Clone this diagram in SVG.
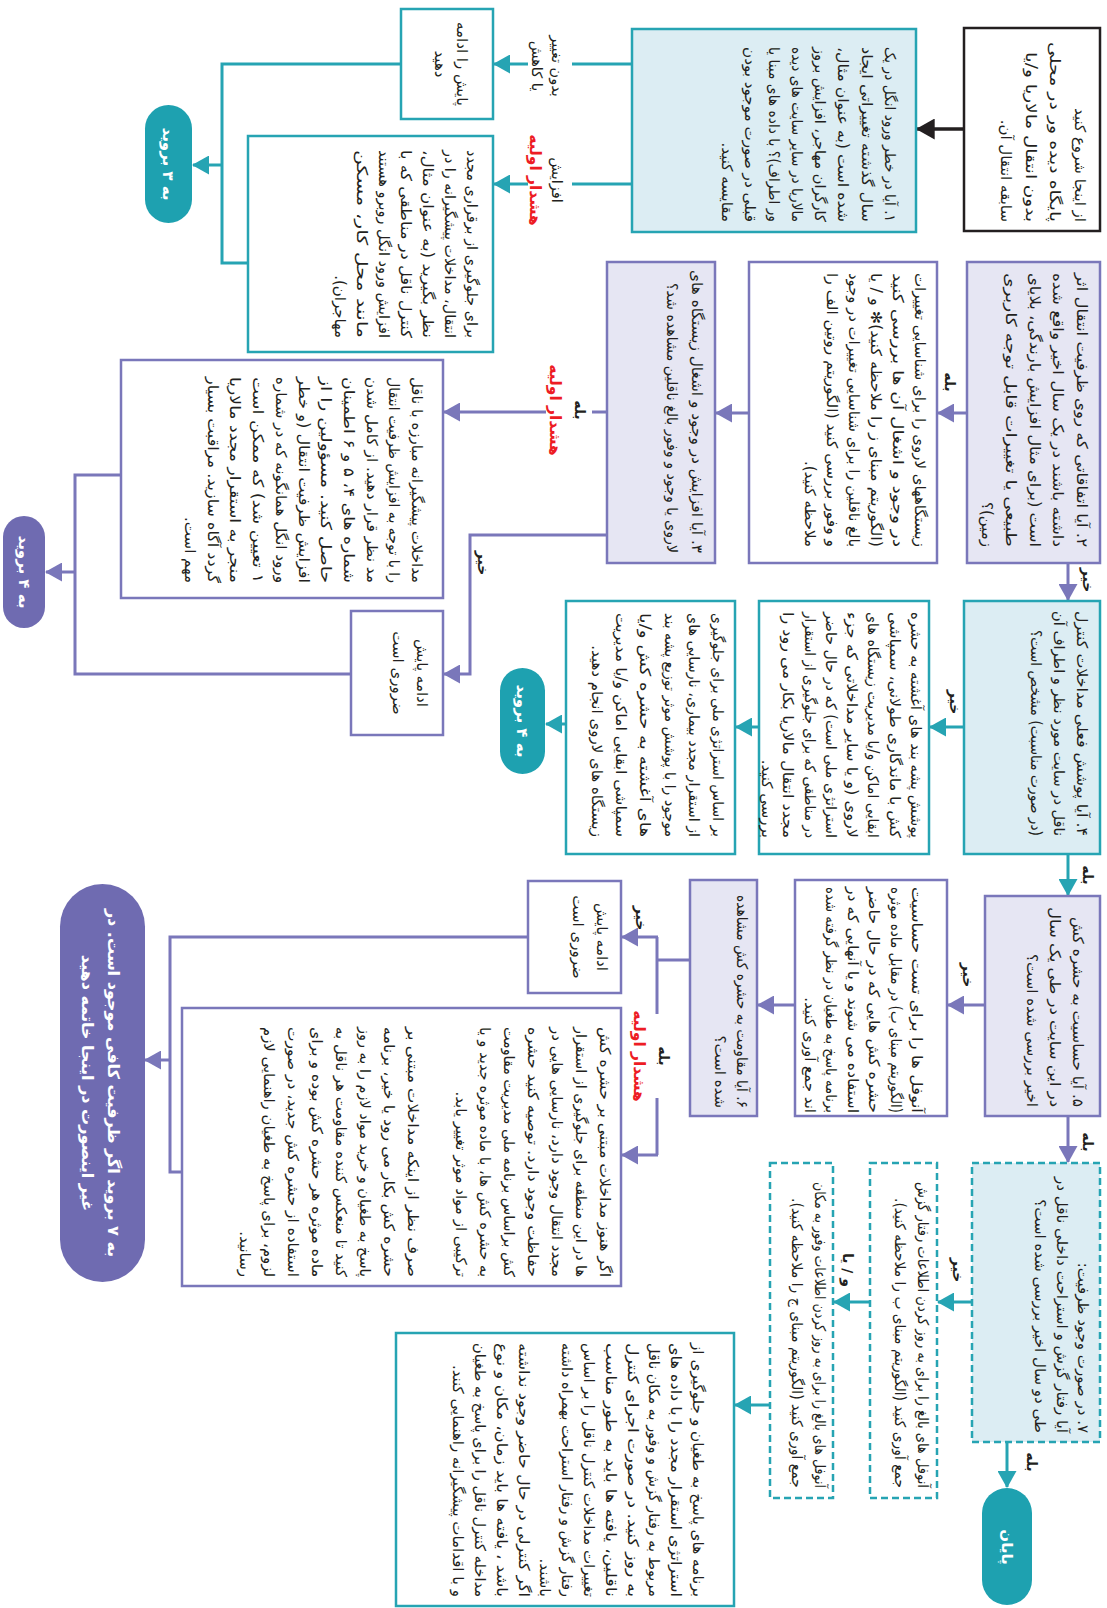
<svg xmlns="http://www.w3.org/2000/svg" width="1107" height="1608" viewBox="0 0 1107 1608">
<style>
.bx{stroke-width:2.5}
.tl{fill:#fff;stroke:#26a4b3}
.tlf{fill:#dcedf3;stroke:#26a4b3}
.pu{fill:#fff;stroke:#7a77ba}
.puf{fill:#e6e6f3;stroke:#7a77ba}
.dash{stroke-dasharray:7 4}
.ct{fill:none;stroke:#26a4b3;stroke-width:3}
.cp{fill:none;stroke:#7a77ba;stroke-width:3}
.ck{fill:none;stroke:#231f20;stroke-width:3.5}
.t{font-family:"DejaVu Sans",sans-serif;font-size:15px;fill:#231f20;direction:rtl;text-anchor:start}
.m{font-family:"DejaVu Sans",sans-serif;font-size:15px;fill:#231f20;direction:rtl;text-anchor:middle}
.lb{font-family:"DejaVu Sans",sans-serif;font-size:14px;font-weight:bold;fill:#231f20;direction:rtl;text-anchor:middle}
.ln{font-weight:normal;font-size:14.5px}
.red{fill:#ed1c24;font-size:15.5px}
.pw{font-family:"DejaVu Sans",sans-serif;font-size:15px;font-weight:bold;fill:#fff;direction:rtl;text-anchor:middle}
</style>
<defs>
<marker id="aT" viewBox="0 0 17 19" refX="16" refY="9.5" markerWidth="17" markerHeight="19" markerUnits="userSpaceOnUse" orient="auto"><path d="M0,0 L17,9.5 L0,19 z" fill="#26a4b3"/></marker>
<marker id="aP" viewBox="0 0 17 19" refX="16" refY="9.5" markerWidth="17" markerHeight="19" markerUnits="userSpaceOnUse" orient="auto"><path d="M0,0 L17,9.5 L0,19 z" fill="#7a77ba"/></marker>
<marker id="aK" viewBox="0 0 17 19" refX="16" refY="9.5" markerWidth="19" markerHeight="21" markerUnits="userSpaceOnUse" orient="auto"><path d="M0,0 L17,9.5 L0,19 z" fill="#231f20"/></marker>
</defs>
<rect width="1107" height="1608" fill="#fff"/>

<g id="connectors">
<line class="ck" x1="964" y1="129" x2="917" y2="129" marker-end="url(#aK)"/>
<line class="ct" x1="632" y1="64" x2="572" y2="64"/>
<line class="ct" x1="528" y1="64" x2="494" y2="64" marker-end="url(#aT)"/>
<line class="ct" x1="632" y1="184" x2="572" y2="184"/>
<line class="ct" x1="528" y1="184" x2="494" y2="184" marker-end="url(#aT)"/>
<polyline class="ct" points="401,64 222,64 222,263 248,263"/>
<line class="ct" x1="222" y1="165" x2="193" y2="165" marker-end="url(#aT)"/>

<line class="cp" x1="967" y1="413" x2="938" y2="413" marker-end="url(#aP)"/>
<line class="cp" x1="749" y1="413" x2="716" y2="413" marker-end="url(#aP)"/>
<line class="cp" x1="607" y1="412" x2="592" y2="412"/>
<line class="cp" x1="546" y1="412" x2="444" y2="412" marker-end="url(#aP)"/>
<polyline class="cp" points="607,535 470,535 470,674 444,674" marker-end="url(#aP)"/>
<polyline class="cp" points="121,475 75,475 75,674 351,674"/>
<line class="cp" x1="75" y1="572" x2="46" y2="572" marker-end="url(#aP)"/>
<line class="cp" x1="1068" y1="563" x2="1068" y2="600" marker-end="url(#aP)"/>

<line class="ct" x1="964" y1="727" x2="930" y2="727" marker-end="url(#aT)"/>
<line class="ct" x1="759" y1="727" x2="736" y2="727" marker-end="url(#aT)"/>
<line class="ct" x1="566" y1="724" x2="546" y2="724" marker-end="url(#aT)"/>
<line class="ct" x1="1068" y1="854" x2="1068" y2="895" marker-end="url(#aT)"/>

<line class="cp" x1="985" y1="1005" x2="948" y2="1005" marker-end="url(#aP)"/>
<line class="cp" x1="795" y1="1005" x2="758" y2="1005" marker-end="url(#aP)"/>
<polyline class="cp" points="690,960 657,960"/>
<line class="cp" x1="657" y1="937" x2="657" y2="1014"/>
<line class="cp" x1="657" y1="1098" x2="657" y2="1155"/>
<line class="cp" x1="658" y1="937" x2="622" y2="937" marker-end="url(#aP)"/>
<line class="cp" x1="658" y1="1155" x2="622" y2="1155" marker-end="url(#aP)"/>
<polyline class="cp" points="528,937 170,937 170,1172 182,1172"/>
<line class="cp" x1="170" y1="1060" x2="145" y2="1060" marker-end="url(#aP)"/>
<line class="cp" x1="1068" y1="1116" x2="1068" y2="1162" marker-end="url(#aP)"/>

<line class="ct" x1="972" y1="1302" x2="938" y2="1302" marker-end="url(#aT)"/>
<line class="ct" x1="870" y1="1302" x2="834" y2="1302" marker-end="url(#aT)"/>
<line class="ct" x1="770" y1="1405" x2="735" y2="1405" marker-end="url(#aT)"/>
<line class="ct" x1="1007" y1="1442" x2="1007" y2="1487" marker-end="url(#aT)"/>

<g transform="translate(552,66) rotate(90)"><text class="lb ln" x="0" y="0">بدون تغییر</text><text class="lb ln" x="0" y="20">یا کاهش</text></g>
<g transform="translate(552,180) rotate(90)"><text class="lb ln" x="0" y="0">افزایش</text><text class="lb red" x="0" y="22">هشدار اولیه</text></g>
<g transform="translate(945,382) rotate(90)"><text class="lb" x="0" y="0">بله</text></g>
<g transform="translate(575,410) rotate(90)"><text class="lb" x="0" y="0">بله</text><text class="lb red" x="0" y="25">هشدار اولیه</text></g>
<g transform="translate(478,563) rotate(90)"><text class="lb" x="0" y="0">خیر</text></g>
<g transform="translate(1083,580) rotate(90)"><text class="lb" x="0" y="0">خیر</text></g>
<g transform="translate(950,702) rotate(90)"><text class="lb" x="0" y="0">خیر</text></g>
<g transform="translate(1083,875) rotate(90)"><text class="lb" x="0" y="0">بله</text></g>
<g transform="translate(963,975) rotate(90)"><text class="lb" x="0" y="0">خیر</text></g>
<g transform="translate(636,918) rotate(90)"><text class="lb" x="0" y="0">خیر</text></g>
<g transform="translate(659,1056) rotate(90)"><text class="lb" x="0" y="0">بله</text><text class="lb red" x="0" y="25">هشدار اولیه</text></g>
<g transform="translate(1083,1142) rotate(90)"><text class="lb" x="0" y="0">بله</text></g>
<g transform="translate(953,1270) rotate(90)"><text class="lb" x="0" y="0">خیر</text></g>
<g transform="translate(843,1270) rotate(90)"><text class="lb" x="0" y="0">و / یا</text></g>
<g transform="translate(1027,1462) rotate(90)"><text class="lb" x="0" y="0">بله</text></g>
</g>

<g id="n-start">
<rect class="bx" x="964" y="28" width="136" height="203" fill="#fff" stroke="#231f20"/>
<g transform="translate(1075,222) rotate(90)">
<text class="t" x="0" y="0">از اینجا شروع کنید</text>
<text class="t" x="0" y="24.7" textLength="180" lengthAdjust="spacingAndGlyphs">پایگاه دیده ور در محلی</text>
<text class="t" x="0" y="49.4" textLength="170" lengthAdjust="spacingAndGlyphs">بدون انتقال مالاریا و/یا</text>
<text class="t" x="0" y="74.1">سابقه انتقال آن.</text>
</g></g>

<g id="n-q1">
<rect class="bx tlf" x="632" y="29" width="284" height="203"/>
<g transform="translate(885,222) rotate(90)">
<text class="t" x="0" y="0" textLength="175" lengthAdjust="spacingAndGlyphs">۱. آیا در خطر ورود انگل در یک</text>
<text class="t" x="0" y="23.3" textLength="175" lengthAdjust="spacingAndGlyphs">سال گذشته تغییراتی ایجاد</text>
<text class="t" x="0" y="46.6" textLength="175" lengthAdjust="spacingAndGlyphs">شده است (به عنوان مثال،</text>
<text class="t" x="0" y="69.9" textLength="175" lengthAdjust="spacingAndGlyphs">کارگران مهاجر، افزایش بروز</text>
<text class="t" x="0" y="93.2" textLength="175" lengthAdjust="spacingAndGlyphs">مالاریا در سایر سایت های دیده</text>
<text class="t" x="0" y="116.5" textLength="175" lengthAdjust="spacingAndGlyphs">ور اطراف)؟ با داده های مبنا یا</text>
<text class="t" x="0" y="139.8" textLength="175" lengthAdjust="spacingAndGlyphs">قبلی در صورت موجود بودن</text>
<text class="t" x="0" y="163.1">مقایسه کنید.</text>
</g></g>

<g id="n-keep1">
<rect class="bx tl" x="401" y="9" width="92" height="110"/>
<g transform="translate(457,64) rotate(90)">
<text class="m" x="0" y="0">پایش را ادامه</text>
<text class="m" x="0" y="22">دهید</text>
</g></g>

<g id="n-prevent1">
<rect class="bx tl" x="248" y="136" width="245" height="216"/>
<g transform="translate(467,338) rotate(90)">
<text class="t" x="0" y="0" textLength="188" lengthAdjust="spacingAndGlyphs">برای جلوگیری از برقراری مجدد</text>
<text class="t" x="0" y="22" textLength="188" lengthAdjust="spacingAndGlyphs">انتقال، مداخلات پیشگیرانه را در</text>
<text class="t" x="0" y="44" textLength="188" lengthAdjust="spacingAndGlyphs">نظر بگیرید (به عنوان مثال،</text>
<text class="t" x="0" y="66" textLength="188" lengthAdjust="spacingAndGlyphs">کنترل ناقل در مناطقی که با</text>
<text class="t" x="0" y="88" textLength="188" lengthAdjust="spacingAndGlyphs">افزایش ورود انگل روبرو هستند</text>
<text class="t" x="0" y="110" textLength="188" lengthAdjust="spacingAndGlyphs">مانند محل کار، مسکن</text>
<text class="t" x="0" y="132">مهاجران).</text>
</g></g>

<g id="n-go3">
<rect x="145" y="105" width="47" height="118" rx="23.5" fill="#1ea1b0"/>
<g transform="translate(163,164) rotate(90)"><text class="pw" x="0" y="0">به ۳ بروید</text></g>
</g>

<g id="n-q2">
<rect class="bx puf" x="967" y="262" width="133" height="301"/>
<g transform="translate(1077,547) rotate(90)">
<text class="t" x="0" y="0" textLength="274" lengthAdjust="spacingAndGlyphs">۲. آیا اتفاقاتی که روی ظرفیت انتقال اثر</text>
<text class="t" x="0" y="23.75" textLength="274" lengthAdjust="spacingAndGlyphs">داشته باشند در یک سال اخیر واقع شده</text>
<text class="t" x="0" y="47.5" textLength="274" lengthAdjust="spacingAndGlyphs">است (برای مثال افزایش بارندگی، بلایای</text>
<text class="t" x="0" y="71.25" textLength="274" lengthAdjust="spacingAndGlyphs">طبیعی یا تغییرات قابل توجه کاربری</text>
<text class="t" x="0" y="95">زمین)؟</text>
</g></g>

<g id="n-larval">
<rect class="bx pu" x="749" y="262" width="188" height="301"/>
<g transform="translate(915,547) rotate(90)">
<text class="t" x="0" y="0" textLength="274" lengthAdjust="spacingAndGlyphs">زیستگاههای لاروی را برای شناسایی تغییرات</text>
<text class="t" x="0" y="22" textLength="274" lengthAdjust="spacingAndGlyphs">در وجود و اشغال آن ها بررسی کنید</text>
<text class="t" x="0" y="44" textLength="274" lengthAdjust="spacingAndGlyphs">(الگوریتم مبنای ز را ملاحظه کنید)✻ و / یا</text>
<text class="t" x="0" y="66" textLength="274" lengthAdjust="spacingAndGlyphs">بالغ ناقلین را برای شناسایی تغییرات در وجود</text>
<text class="t" x="0" y="88" textLength="274" lengthAdjust="spacingAndGlyphs">و وفور بررسی کنید (الگوریتم روتین الف را</text>
<text class="t" x="0" y="110">ملاحظه کنید).</text>
</g></g>

<g id="n-q3">
<rect class="bx puf" x="607" y="262" width="108" height="301"/>
<g transform="translate(692,553) rotate(90)">
<text class="t" x="0" y="0" textLength="283" lengthAdjust="spacingAndGlyphs">۳. آیا افزایش در وجود و اشغال زیستگاه های</text>
<text class="t" x="0" y="25" textLength="270" lengthAdjust="spacingAndGlyphs">لاروی یا وجود و وفور بالغ ناقلین مشاهده شد؟</text>
</g></g>

<g id="n-prevent2">
<rect class="bx pu" x="121" y="360" width="322" height="238"/>
<g transform="translate(412,583) rotate(90)">
<text class="t" x="0" y="0" textLength="206" lengthAdjust="spacingAndGlyphs">مداخلات پیشگیرانه مبارزه با ناقل</text>
<text class="t" x="0" y="22.7" textLength="206" lengthAdjust="spacingAndGlyphs">را با توجه به افزایش ظرفیت انتقال</text>
<text class="t" x="0" y="45.4" textLength="206" lengthAdjust="spacingAndGlyphs">مد نظر قرار دهید. از کامل شدن</text>
<text class="t" x="0" y="68.1" textLength="206" lengthAdjust="spacingAndGlyphs">شماره های ۴، ۵ و ۶ اطمینان</text>
<text class="t" x="0" y="90.8" textLength="206" lengthAdjust="spacingAndGlyphs">حاصل کنید. مسؤولین را از</text>
<text class="t" x="0" y="113.5" textLength="206" lengthAdjust="spacingAndGlyphs">افزایش ظرفیت انتقال (و خطر</text>
<text class="t" x="0" y="136.2" textLength="206" lengthAdjust="spacingAndGlyphs">ورود انگل همانگونه که در شماره</text>
<text class="t" x="0" y="158.9" textLength="206" lengthAdjust="spacingAndGlyphs">۱ تعیین شد) که ممکن است</text>
<text class="t" x="0" y="181.6" textLength="206" lengthAdjust="spacingAndGlyphs">منجر به استقرار مجدد مالاریا</text>
<text class="t" x="0" y="204.3" textLength="206" lengthAdjust="spacingAndGlyphs">گردد آگاه سازید. مراقبت بسیار</text>
<text class="t" x="0" y="227">مهم است.</text>
</g></g>

<g id="n-keep2">
<rect class="bx pu" x="351" y="611" width="92" height="124"/>
<g transform="translate(417,673) rotate(90)">
<text class="m" x="0" y="0">ادامه پایش</text>
<text class="m" x="0" y="24">ضروری است</text>
</g></g>

<g id="n-go4a">
<rect x="3" y="516" width="42" height="112" rx="21" fill="#6f6bb1"/>
<g transform="translate(19,572) rotate(90)"><text class="pw" x="0" y="0">به ۴ بروید</text></g>
</g>

<g id="n-q4">
<rect class="bx tlf" x="964" y="601" width="136" height="253"/>
<g transform="translate(1077,836) rotate(90)">
<text class="t" x="0" y="0" textLength="225" lengthAdjust="spacingAndGlyphs">۴. آیا پوشش فعلی مداخلات کنترل</text>
<text class="t" x="0" y="23" textLength="225" lengthAdjust="spacingAndGlyphs">ناقل در سایت مورد نظر و اطراف آن</text>
<text class="t" x="0" y="46" textLength="206" lengthAdjust="spacingAndGlyphs">(در صورت مناسبت) مشخص است؟</text>
</g></g>

<g id="n-coverage">
<rect class="bx tl" x="759" y="601" width="170" height="253"/>
<g transform="translate(911,838) rotate(90)">
<text class="t" x="0" y="0" textLength="226" lengthAdjust="spacingAndGlyphs">پوشش پشه بند های آغشته به حشره</text>
<text class="t" x="0" y="21.3" textLength="226" lengthAdjust="spacingAndGlyphs">کش با ماندگاری طولانی، سمپاشی</text>
<text class="t" x="0" y="42.6" textLength="226" lengthAdjust="spacingAndGlyphs">ابقایی اماکن و/یا مدیریت زیستگاه های</text>
<text class="t" x="0" y="63.9" textLength="226" lengthAdjust="spacingAndGlyphs">لاروی (و یا سایر مداخلاتی که جزء</text>
<text class="t" x="0" y="85.2" textLength="226" lengthAdjust="spacingAndGlyphs">استراتژی ملی است) که در حال حاضر</text>
<text class="t" x="0" y="106.5" textLength="226" lengthAdjust="spacingAndGlyphs">در مناطقی که برای جلوگیری از استقرار</text>
<text class="t" x="0" y="127.8" textLength="226" lengthAdjust="spacingAndGlyphs">مجدد انتقال مالاریا بکار می رود را</text>
<text class="t" x="0" y="149.1">بررسی کنید.</text>
</g></g>

<g id="n-gaps">
<rect class="bx tl" x="566" y="601" width="169" height="253"/>
<g transform="translate(713,837) rotate(90)">
<text class="t" x="0" y="0" textLength="224" lengthAdjust="spacingAndGlyphs">بر اساس استراتژی ملی برای جلوگیری</text>
<text class="t" x="0" y="24.2" textLength="224" lengthAdjust="spacingAndGlyphs">از استقرار مجدد بیماری، نارسایی های</text>
<text class="t" x="0" y="48.4" textLength="224" lengthAdjust="spacingAndGlyphs">موجود را با پوشش موثر توزیع پشه بند</text>
<text class="t" x="0" y="72.6" textLength="224" lengthAdjust="spacingAndGlyphs">های آغشته به حشره کش و/یا</text>
<text class="t" x="0" y="96.8" textLength="224" lengthAdjust="spacingAndGlyphs">سمپاشی ابقایی اماکن و/یا مدیریت</text>
<text class="t" x="0" y="121">زیستگاه های لاروی انجام دهید.</text>
</g></g>

<g id="n-go4b">
<rect x="500" y="668" width="45" height="106" rx="22.5" fill="#1ea1b0"/>
<g transform="translate(517,721) rotate(90)"><text class="pw" x="0" y="0">به ۴ بروید</text></g>
</g>

<g id="n-q5">
<rect class="bx puf" x="985" y="896" width="115" height="220"/>
<g transform="translate(1073,1107) rotate(90)">
<text class="t" x="0" y="0" textLength="190" lengthAdjust="spacingAndGlyphs">۵. آیا حساسیت به حشره کش</text>
<text class="t" x="0" y="23" textLength="200" lengthAdjust="spacingAndGlyphs">در این سایت در طی یک سال</text>
<text class="t" x="0" y="46">اخیر بررسی شده است؟</text>
</g></g>

<g id="n-susc">
<rect class="bx pu" x="795" y="880" width="152" height="236"/>
<g transform="translate(912,1113) rotate(90)">
<text class="t" x="0" y="0" textLength="226" lengthAdjust="spacingAndGlyphs">آنوفل ها را برای تست حساسیت</text>
<text class="t" x="0" y="21.4" textLength="226" lengthAdjust="spacingAndGlyphs">(الگوریتم مبنای ب) در مقابل ماده موثره</text>
<text class="t" x="0" y="42.8" textLength="226" lengthAdjust="spacingAndGlyphs">حشره کش هایی که در حال حاضر</text>
<text class="t" x="0" y="64.2" textLength="226" lengthAdjust="spacingAndGlyphs">استفاده می شوند و یا آنهایی که در</text>
<text class="t" x="0" y="85.6" textLength="226" lengthAdjust="spacingAndGlyphs">برنامه پاسخ به طغیان در نظر گرفته شده</text>
<text class="t" x="0" y="107">اند جمع آوری کنید.</text>
</g></g>

<g id="n-q6">
<rect class="bx puf" x="690" y="880" width="67" height="236"/>
<g transform="translate(737,1108) rotate(90)">
<text class="t" x="0" y="0" textLength="213" lengthAdjust="spacingAndGlyphs">۶. آیا مقاومت به حشره کش مشاهده</text>
<text class="t" x="0" y="22">شده است؟</text>
</g></g>

<g id="n-keep3">
<rect class="bx pu" x="528" y="881" width="93" height="112"/>
<g transform="translate(597,937) rotate(90)">
<text class="m" x="0" y="0">ادامه پایش</text>
<text class="m" x="0" y="24">ضروری است</text>
</g></g>

<g id="n-resist">
<rect class="bx pu" x="182" y="1008" width="439" height="278"/>
<g transform="translate(600,1277) rotate(90)">
<text class="t" x="0" y="0" textLength="250" lengthAdjust="spacingAndGlyphs">اگر هنوز مداخلات مبتنی بر حشره کش</text>
<text class="t" x="0" y="24" textLength="250" lengthAdjust="spacingAndGlyphs">ها در این منطقه برای جلوگیری از استقرار</text>
<text class="t" x="0" y="48" textLength="250" lengthAdjust="spacingAndGlyphs">مجدد انتقال وجود دارد، نارسایی هایی در</text>
<text class="t" x="0" y="72" textLength="250" lengthAdjust="spacingAndGlyphs">حفاظت وجود دارد. توصیه کنید حشره</text>
<text class="t" x="0" y="96" textLength="250" lengthAdjust="spacingAndGlyphs">کش براساس برنامه ملی مدیریت مقاومت</text>
<text class="t" x="0" y="120" textLength="250" lengthAdjust="spacingAndGlyphs">به حشره کش ها، با ماده موثره جدید و یا</text>
<text class="t" x="0" y="144">ترکیبی از مواد موثر تغییر یابد.</text>
<text class="t" x="0" y="192" textLength="250" lengthAdjust="spacingAndGlyphs">صرف نظر از اینکه مداخلات مبتنی بر</text>
<text class="t" x="0" y="216" textLength="250" lengthAdjust="spacingAndGlyphs">حشره کش بکار می رود یا خیر، برنامه</text>
<text class="t" x="0" y="240" textLength="250" lengthAdjust="spacingAndGlyphs">پاسخ به طغیان و خرید مواد لازم را به روز</text>
<text class="t" x="0" y="264" textLength="250" lengthAdjust="spacingAndGlyphs">کنید تا منعکس کننده مقاومت هر ناقل به</text>
<text class="t" x="0" y="288" textLength="250" lengthAdjust="spacingAndGlyphs">ماده موثره هر حشره کش بوده و برای</text>
<text class="t" x="0" y="312" textLength="250" lengthAdjust="spacingAndGlyphs">استفاده از حشره کش جدید، در صورت</text>
<text class="t" x="0" y="336" textLength="250" lengthAdjust="spacingAndGlyphs">لزوم، برای پاسخ به طغیان راهنمایی لازم</text>
<text class="t" x="0" y="360">رسانید.</text>
</g></g>

<g id="n-go7">
<rect x="60" y="884" width="85" height="398" rx="42.5" fill="#6f6bb1"/>
<g transform="translate(108,1083) rotate(90)">
<text class="pw" x="0" y="0" style="font-size:16px">به ۷ بروید اگر ظرفیت کافی موجود است. در</text>
<text class="pw" x="0" y="26" style="font-size:16px">غیر اینصورت در اینجا خاتمه دهید</text>
</g></g>

<g id="n-q7">
<rect class="bx tlf dash" x="972" y="1163" width="128" height="279"/>
<g transform="translate(1078,1433) rotate(90)">
<text class="t" x="0" y="0">۷. در صورت وجود ظرفیت:</text>
<text class="t" x="0" y="21.5" textLength="256" lengthAdjust="spacingAndGlyphs">آیا رفتار گزش و استراحت داخلی ناقل در</text>
<text class="t" x="0" y="43">طی دو سال اخیر بررسی شده است؟</text>
</g></g>

<g id="n-biting">
<rect class="bx tl dash" x="870" y="1163" width="67" height="335"/>
<g transform="translate(918,1488) rotate(90)">
<text class="t" x="0" y="0" textLength="306" lengthAdjust="spacingAndGlyphs">آنوفل های بالغ را برای به روز کردن اطلاعات رفتار گزش</text>
<text class="t" x="0" y="23" textLength="290" lengthAdjust="spacingAndGlyphs">جمع آوری کنید (الگوریتم مبنای ب را ملاحظه کنید).</text>
</g></g>

<g id="n-resting">
<rect class="bx tl dash" x="770" y="1163" width="63" height="335"/>
<g transform="translate(815,1488) rotate(90)">
<text class="t" x="0" y="0" textLength="306" lengthAdjust="spacingAndGlyphs">آنوفل های بالغ را برای به روز کردن اطلاعات وفور به مکان</text>
<text class="t" x="0" y="23" textLength="290" lengthAdjust="spacingAndGlyphs">جمع آوری کنید (الگوریتم مبنای ج را ملاحظه کنید).</text>
</g></g>

<g id="n-update">
<rect class="bx tl" x="396" y="1333" width="338" height="273"/>
<g transform="translate(693,1597) rotate(90)">
<text class="t" x="0" y="0" textLength="254" lengthAdjust="spacingAndGlyphs">برنامه های پاسخ به طغیان و جلوگیری از</text>
<text class="t" x="0" y="21.8" textLength="254" lengthAdjust="spacingAndGlyphs">استراتژی استقرار مجدد را با داده های</text>
<text class="t" x="0" y="43.6" textLength="254" lengthAdjust="spacingAndGlyphs">مربوط به رفتار گزش و وفور به مکان ناقل</text>
<text class="t" x="0" y="65.4" textLength="254" lengthAdjust="spacingAndGlyphs">به روز کنید. در صورت اجرای کنترل</text>
<text class="t" x="0" y="87.2" textLength="254" lengthAdjust="spacingAndGlyphs">ناقلین، یافته ها باید به طور مناسب</text>
<text class="t" x="0" y="109" textLength="254" lengthAdjust="spacingAndGlyphs">تغییرات مداخلات کنترل ناقل را بر اساس</text>
<text class="t" x="0" y="130.8" textLength="254" lengthAdjust="spacingAndGlyphs">رفتار گزش و رفتار استراحت بهمراه داشته</text>
<text class="t" x="0" y="152.6">باشند.</text>
<text class="t" x="0" y="174.4" textLength="254" lengthAdjust="spacingAndGlyphs">اگر کنترلی در حال حاضر وجود نداشته</text>
<text class="t" x="0" y="196.2" textLength="254" lengthAdjust="spacingAndGlyphs">باشد ، یافته ها باید زمان، مکان و نوع</text>
<text class="t" x="0" y="218" textLength="254" lengthAdjust="spacingAndGlyphs">مداخله کنترل ناقل را برای پاسخ به طغیان</text>
<text class="t" x="0" y="239.8">و با اقدامات پیشگیرانه راهنمایی کنند.</text>
</g></g>

<g id="n-end">
<rect x="982" y="1488" width="50" height="117" rx="25" fill="#1ea1b0"/>
<g transform="translate(1002,1547) rotate(90)"><text class="pw" x="0" y="0">پایان</text></g>
</g>
</svg>
